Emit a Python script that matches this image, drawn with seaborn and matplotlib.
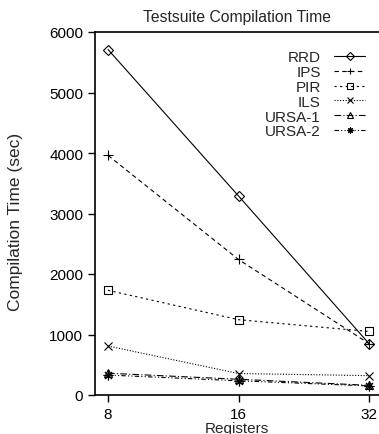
import matplotlib
matplotlib.use("Agg")
import matplotlib.pyplot as plt
import seaborn as sns

registers = ["8", "16", "32"]
rrd = [5710, 3290, 850]
ips = [3960, 2240, 850]
pir = [1730, 1245, 1050]
ils = [810, 355, 320]
ursa1 = [360, 260, 160]
ursa2 = [330, 235, 150]

series = [
    ("RRD", rrd, "D", "-", 5),
    ("IPS", ips, "+", (0, (4, 3)), 7),
    ("PIR", pir, "s", (0, (2, 3)), 6),
    ("ILS", ils, "x", (0, (1, 1.5)), 6),
    ("URSA-1", ursa1, "^", (0, (6, 2, 1, 2)), 6),
    ("URSA-2", ursa2, (8, 2, 0), (0, (4, 2, 1, 2, 1, 2)), 7),
]

sns.set_style("ticks")
plt.rcParams["font.family"] = ["Liberation Sans", "DejaVu Sans"]

fig = plt.figure(figsize=(3.79, 4.35), dpi=100)
ax = fig.add_axes([95 / 379, 1 - 396 / 435, (379 - 95) / 379, (396 - 33) / 435])

xpos = list(range(len(registers)))
for name, vals, mk, ls, ms in series:
    sns.lineplot(x=xpos, y=vals, ax=ax, color="black", linewidth=0.8,
                 linestyle=ls, marker=mk, markersize=ms, markerfacecolor="none",
                 markeredgecolor="black", markeredgewidth=0.8, label=name)

ax.set_xlim(-0.1, 2.077)
ax.set_ylim(0, 6000)
ax.set_xticks(xpos)
ax.set_xticklabels(registers)
ax.set_yticks(range(0, 6001, 1000))
ax.tick_params(labelsize=11, direction="out", length=5, width=1, colors="black")
for s in ["left", "bottom", "top"]:
    ax.spines[s].set_linewidth(1.2)
    ax.spines[s].set_color("black")
ax.spines["right"].set_visible(False)

ax.set_title("Testsuite Compilation Time", fontsize=11.3, pad=8)
ax.set_xlabel("Registers", fontsize=11, labelpad=0)
ax.set_ylabel("Compilation Time (sec)", fontsize=12.5)
ax.yaxis.set_label_coords(-0.254, 0.48)

leg = ax.legend(loc="upper right", bbox_to_anchor=(0.972, 0.966), frameon=False,
                markerfirst=False, fontsize=11, labelspacing=0.05,
                handlelength=2.0, handletextpad=0.9, borderaxespad=0)
for h in leg.legend_handles:
    h.set_markersize(4.5)

fig.savefig("out.png", dpi=100)
